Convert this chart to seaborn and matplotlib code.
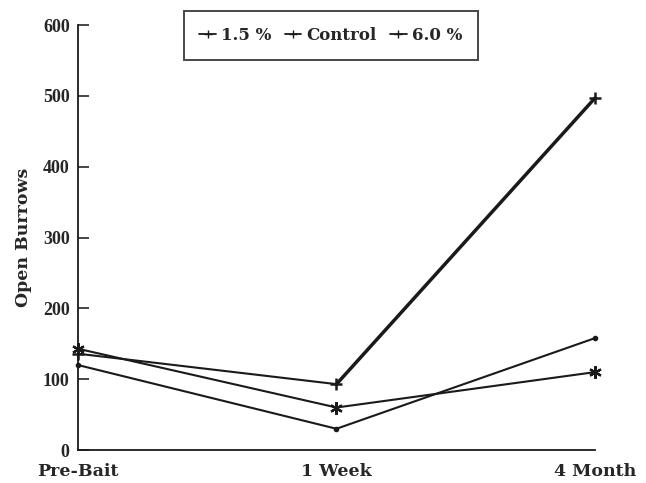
import numpy as np
import pandas as pd
import matplotlib
matplotlib.use("Agg")
import matplotlib.pyplot as plt
import seaborn as sns

# values
periods = ["Pre-Bait", "1 Week", "4 Month"]
bait_15 = [120, 30, 158]
control = [136, 93, 497]
bait_60 = [143, 60, 110]

df = pd.DataFrame({
    "period": periods * 3,
    "x": list(range(3)) * 3,
    "burrows": bait_15 + control + bait_60,
    "group": ["1.5 %"] * 3 + ["Control"] * 3 + ["6.0 %"] * 3,
})

sns.set_style("ticks")
plt.rcParams["font.family"] = ["DejaVu Serif"]
plt.rcParams["font.weight"] = "bold"

fig = plt.figure(figsize=(6.46, 4.83), dpi=100)
ax = fig.add_axes([0.1207, 0.0683, 0.8003, 0.8797])

ink = "#1a1a1a"
styles = {
    "1.5 %": dict(marker="o", ms=3, mew=1),
    "Control": dict(marker="+", ms=9, mew=1.8),
    "6.0 %": dict(marker=(6, 2, 0), ms=9, mew=1.6),
}
for name, sub in df.groupby("group", sort=False):
    st = styles[name]
    sns.lineplot(data=sub, x="x", y="burrows", ax=ax, color=ink,
                 lw=1.5, legend=False)
    ax.plot(sub["x"], sub["burrows"], ls="none", color=ink, clip_on=False,
            marker=st["marker"], ms=st["ms"], mew=st["mew"])

# the control rise after one week is drawn heavier in the original
rise = df[(df["group"] == "Control") & (df["x"] >= 1)]
sns.lineplot(data=rise, x="x", y="burrows", ax=ax, color=ink, lw=2.5,
             legend=False)

ax.set_xlim(0, 2)
ax.set_ylim(0, 600)
ax.set_xticks(range(3))
ax.set_xticklabels(periods, fontsize=12.5, fontweight="bold")
ax.set_yticks(range(0, 601, 100))
ax.set_yticklabels([str(v) for v in range(0, 601, 100)], fontsize=13,
                   fontweight="bold", family="Liberation Serif")
ax.tick_params(axis="y", direction="in", length=8, width=1.2, pad=6)
ax.tick_params(axis="x", length=0, pad=9)
ax.set_xlabel("")
ax.set_ylabel("Open Burrows", fontsize=12.5, fontweight="bold", labelpad=8)
sns.despine(ax=ax)
for s in ["left", "bottom"]:
    ax.spines[s].set_linewidth(1.3)
    ax.spines[s].set_color(ink)

handles = [plt.Line2D([], [], color=ink, lw=1.3, marker="+", ms=6)
           for _ in range(3)]
leg = fig.legend(handles, ["1.5 %", "Control", "6.0 %"], ncol=3,
                 loc="center", bbox_to_anchor=(0.512, 0.926),
                 frameon=True, fancybox=False, edgecolor=ink,
                 handlelength=1.0, handletextpad=0.3, columnspacing=0.8,
                 borderpad=0.95, prop={"weight": "bold", "size": 12})
leg.get_frame().set_linewidth(1.4)

fig.savefig("out.png", dpi=100)
